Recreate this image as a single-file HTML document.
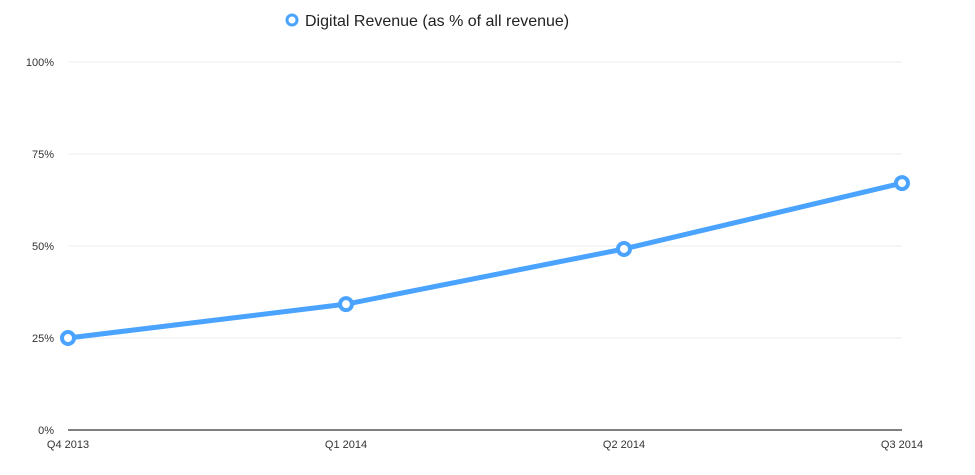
<!DOCTYPE html>
<html><head><meta charset="utf-8"><style>
body{margin:0;background:#fff;width:975px;height:470px;overflow:hidden;font-family:"Liberation Sans",sans-serif}
</style></head><body>
<svg id="chart" width="975" height="470" xmlns="http://www.w3.org/2000/svg">
<g id="legend">
<circle cx="292" cy="20" r="5" fill="#fff" stroke="#4aa3ff" stroke-width="3"/>
<text x="305" y="26" font-size="16" fill="#222">Digital Revenue (as % of all revenue)</text>
</g>
<g id="grid"></g><g id="axes"></g><g id="series"></g>
</svg>
<script>
const categories=["Q4 2013","Q1 2014","Q2 2014","Q3 2014"];
const values=[25,34.2,49.2,67.1];
const yTicks=[0,25,50,75,100];
const yTickLabels=["0%","25%","50%","75%","100%"];
const NS="http://www.w3.org/2000/svg";
const x0=68,x1=902,yb=430,yt=62;
const xs=i=>x0+(x1-x0)*i/(categories.length-1);
const ys=v=>yb-(yb-yt)*v/100;
function mk(t,a,p){const e=document.createElementNS(NS,t);for(const k in a)e.setAttribute(k,a[k]);p.appendChild(e);return e;}
const grid=document.getElementById('grid'),axes=document.getElementById('axes'),series=document.getElementById('series');
yTicks.forEach((v,i)=>{
 if(v>0){const g=mk('line',{x1:x0,x2:x1,y1:ys(v),y2:ys(v),stroke:'#ececec','stroke-width':1},grid);
 
 }
 const t=mk('text',{x:54,y:ys(v)+4,'text-anchor':'end','font-size':11,fill:'#333'},axes);t.textContent=yTickLabels[i];
 
 
});
const base=mk('line',{x1:x0,x2:x1,y1:yb,y2:yb,stroke:'#555','stroke-width':1.5},axes);


categories.forEach((c,i)=>{
 const t=mk('text',{x:xs(i),y:448,'text-anchor':'middle','font-size':11,fill:'#333'},axes);t.textContent=c;
 
 
});
const pts=values.map((v,i)=>xs(i)+','+ys(v)).join(' ');
const pl=mk('polyline',{points:pts,fill:'none',stroke:'#4aa3ff','stroke-width':5,'stroke-linejoin':'round'},series);


values.forEach((v,i)=>{
 const c=mk('circle',{cx:xs(i),cy:ys(v),r:6,fill:'#fff',stroke:'#4aa3ff','stroke-width':4},series);
 
 
});
</script>
</body></html>
